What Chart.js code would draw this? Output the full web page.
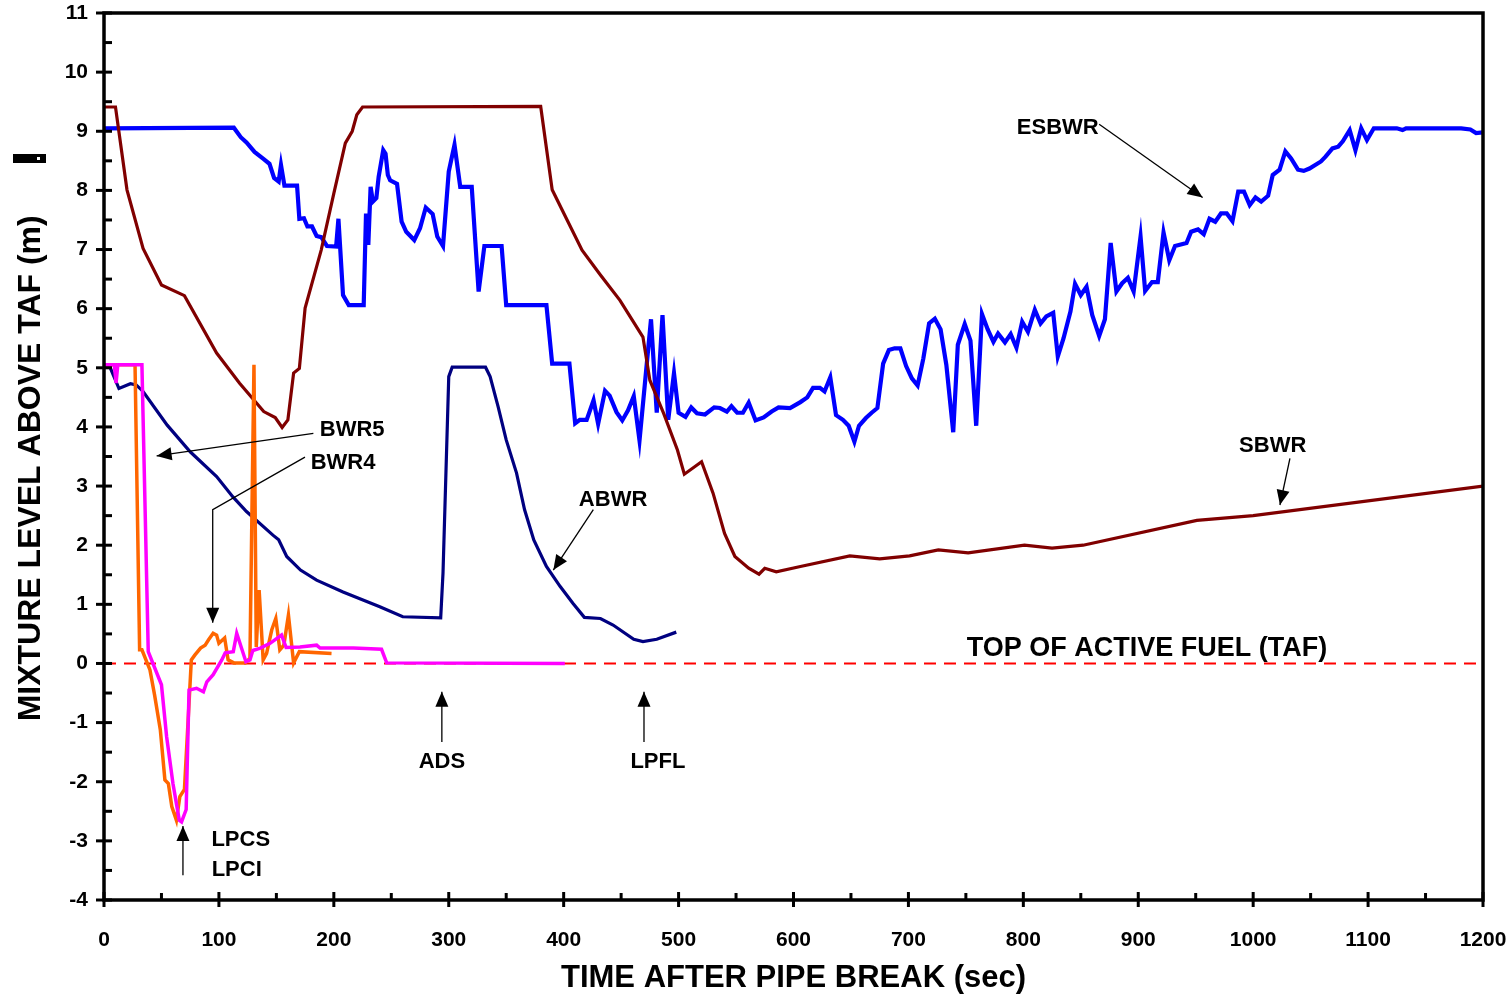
<!DOCTYPE html>
<html>
<head>
<meta charset="utf-8">
<script src="https://cdn.jsdelivr.net/npm/chart.js@4.4.1/dist/chart.umd.min.js"></script>
<style>
  html, body { margin: 0; padding: 0; background: #fff; }
  canvas { display: block; }
</style>
</head>
<body>
<canvas id="levelChart" width="1512" height="994"></canvas>
<script>
// ESBWR (blue)
const esbwrTime = [0, 113, 119, 124, 131, 139, 144, 148, 152, 154, 157, 168, 170, 174, 177, 181, 185, 189, 194, 202,
  204, 208, 213, 226, 228, 230, 232, 234, 237, 239, 243, 245, 247, 249, 255, 259, 263, 270, 275, 280,
  286, 290, 295, 300, 305, 310, 320, 326, 331, 346, 350, 385, 390, 405, 410, 414, 420, 426, 430, 436,
  440, 446, 451, 456, 461, 466, 476, 481, 486, 491, 496, 500, 506, 511, 516, 523, 531, 536, 542, 546,
  551, 556, 561, 567, 574, 581, 587, 597, 606, 612, 617, 623, 627, 632, 637, 643, 648, 653, 657, 663,
  668, 673, 678, 683, 688, 693, 698, 703, 708, 713, 718, 723, 728, 733, 739, 743, 749, 754, 759, 764,
  769, 774, 778, 784, 789, 794, 799, 804, 810, 815, 820, 826, 830, 835, 841, 845, 850, 855, 860, 866,
  871, 876, 881, 886, 891, 896, 902, 906, 912, 917, 922, 927, 932, 942, 946, 952, 957, 962, 967, 972,
  977, 982, 987, 992, 997, 1002, 1007, 1013, 1017, 1023, 1028, 1033, 1039, 1044, 1049, 1054, 1059, 1063, 1069, 1074,
  1078, 1084, 1089, 1094, 1099, 1105, 1125, 1130, 1133, 1181, 1189, 1194, 1200];
const esbwrLevel = [9.05, 9.06, 8.90, 8.81, 8.65, 8.53, 8.45, 8.21, 8.15, 8.43, 8.08, 8.08, 7.52, 7.53, 7.39, 7.39, 7.23, 7.21, 7.06, 7.05,
  7.52, 6.23, 6.06, 6.06, 7.61, 7.08, 8.06, 7.81, 7.87, 8.23, 8.68, 8.62, 8.26, 8.17, 8.11, 7.47, 7.30, 7.16, 7.36, 7.71,
  7.60, 7.22, 7.06, 8.32, 8.77, 8.06, 8.06, 6.29, 7.06, 7.06, 6.06, 6.06, 5.07, 5.07, 4.06, 4.12, 4.12, 4.45, 4.05, 4.61,
  4.53, 4.25, 4.11, 4.28, 4.52, 3.77, 5.82, 4.24, 5.89, 4.12, 4.91, 4.24, 4.17, 4.33, 4.23, 4.21, 4.33, 4.32, 4.26, 4.35,
  4.24, 4.24, 4.41, 4.11, 4.16, 4.26, 4.33, 4.32, 4.42, 4.50, 4.66, 4.66, 4.60, 4.84, 4.20, 4.12, 4.02, 3.75, 4.02, 4.15,
  4.24, 4.32, 5.07, 5.30, 5.33, 5.33, 5.03, 4.82, 4.70, 5.16, 5.75, 5.83, 5.65, 5.05, 3.91, 5.39, 5.74, 5.46, 4.02, 5.91,
  5.65, 5.44, 5.58, 5.43, 5.57, 5.34, 5.78, 5.61, 5.98, 5.75, 5.87, 5.93, 5.19, 5.50, 5.95, 6.42, 6.23, 6.37, 5.89, 5.54,
  5.82, 7.11, 6.29, 6.43, 6.52, 6.29, 7.22, 6.30, 6.45, 6.45, 7.29, 6.82, 7.06, 7.11, 7.30, 7.34, 7.26, 7.52, 7.47, 7.61,
  7.61, 7.48, 7.98, 7.98, 7.75, 7.88, 7.81, 7.91, 8.26, 8.35, 8.66, 8.54, 8.35, 8.33, 8.37, 8.43, 8.49, 8.57, 8.71, 8.74,
  8.83, 9.02, 8.68, 9.05, 8.85, 9.05, 9.05, 9.02, 9.05, 9.05, 9.03, 8.97, 8.98];

// SBWR (dark red)
const sbwrTime = [0, 10, 20, 34, 50, 70, 98, 118, 139, 149, 155, 160, 165, 170, 175, 189, 200, 210, 216, 220,
  225, 380, 390, 403, 416, 432, 449, 469, 475, 487, 499, 505, 520, 530, 540, 549, 561, 570, 575, 585,
  606, 649, 675, 701, 726, 752, 801, 825, 852, 951, 1000, 1200];
const sbwrLevel = [9.41, 9.41, 8.01, 7.02, 6.40, 6.22, 5.25, 4.74, 4.26, 4.16, 3.99, 4.12, 4.91, 4.99, 6.01, 6.99, 7.95, 8.80, 9.00, 9.28,
  9.41, 9.42, 8.01, 7.50, 6.99, 6.57, 6.14, 5.52, 4.79, 4.23, 3.61, 3.20, 3.41, 2.88, 2.20, 1.81, 1.61, 1.51, 1.61, 1.55,
  1.64, 1.82, 1.77, 1.82, 1.92, 1.87, 2.00, 1.95, 2.00, 2.42, 2.50, 3.00];

// ABWR (navy)
const abwrTime = [0, 5, 13, 23, 28, 34, 55, 75, 98, 112, 124, 147, 152, 159, 171, 185, 208, 240, 260, 293,
  295, 300, 303, 332, 336, 343, 350, 359, 366, 374, 385, 397, 408, 418, 432, 443, 461, 469, 481, 498];
const abwrLevel = [5.03, 5.02, 4.65, 4.73, 4.71, 4.60, 4.03, 3.58, 3.16, 2.82, 2.57, 2.17, 2.09, 1.81, 1.58, 1.41, 1.21, 0.96, 0.79, 0.77,
  1.53, 4.85, 5.01, 5.01, 4.85, 4.34, 3.78, 3.22, 2.60, 2.09, 1.64, 1.30, 1.02, 0.78, 0.76, 0.65, 0.41, 0.37, 0.41, 0.53];

// BWR4 (orange)
const bwr4Time = [0, 27, 31, 33, 40, 44, 49, 53, 56, 59, 63, 66, 70, 76, 79, 84, 88, 91, 95, 98,
  100, 105, 108, 113, 123, 127, 130.5, 132.5, 135, 138.5, 141.5, 146, 149.5, 153, 156.5, 160.5, 165, 170, 198];
const bwr4Level = [5.05, 5.05, 0.23, 0.23, -0.11, -0.53, -1.12, -1.97, -2.03, -2.42, -2.65, -2.25, -2.13, 0.06, 0.14, 0.26, 0.31, 0.40, 0.51, 0.48,
  0.34, 0.43, 0.06, 0.01, 0.01, 0.09, 5.05, 0.28, 1.24, 0.06, 0.17, 0.57, 0.76, 0.23, 0.31, 0.82, 0.01, 0.20, 0.17];

// BWR5 (magenta)
const bwr5Time = [0, 9, 10.5, 12, 33, 38.5, 50, 54.5, 60, 65.5, 67.5, 71.5, 74, 80.5, 86.5, 89.5, 95, 102.5, 105.5, 112.5,
  115.5, 123.5, 127, 129.5, 136, 144.5, 154.5, 158.5, 170.5, 185, 188, 217, 241.5, 246, 401];
const bwr5Level = [5.05, 5.05, 4.74, 5.05, 5.05, 0.20, -0.36, -1.24, -2.03, -2.65, -2.68, -2.47, -0.45, -0.42, -0.48, -0.31, -0.19, 0.06, 0.18, 0.20,
  0.51, 0.03, 0.06, 0.22, 0.26, 0.34, 0.48, 0.27, 0.28, 0.31, 0.26, 0.26, 0.24, 0.01, 0.00];

// top of active fuel reference line
const tafTime = [0, 1200];
const tafLevel = [0, 0];

const FONT = "'Liberation Sans', Arial, Helvetica, sans-serif";
const yTitle = 'MIXTURE LEVEL ABOVE TAF (m)';

// labels and arrows, placed in data units
const labels = [
  { text: 'ESBWR', x: 830, y: 9.06, size: 22 },
  { text: 'SBWR', x: 1017, y: 3.68, size: 22 },
  { text: 'ABWR', x: 443, y: 2.77, size: 22 },
  { text: 'BWR5', x: 216, y: 3.95, size: 22 },
  { text: 'BWR4', x: 208, y: 3.39, size: 22 },
  { text: 'TOP OF ACTIVE FUEL (TAF)', x: 907.6, y: 0.26, size: 27 },
  { text: 'ADS', x: 294, y: -1.67, size: 22 },
  { text: 'LPFL', x: 482, y: -1.67, size: 22 },
  { text: 'LPCS', x: 119, y: -2.99, size: 22 },
  { text: 'LPCI', x: 115.5, y: -3.49, size: 22 }
];
const arrows = [
  [[866, 9.12], [956, 7.88]],
  [[1032, 3.47], [1023.3, 2.68]],
  [[425.8, 2.60], [391, 1.58]],
  [[182.2, 3.89], [45.8, 3.51]],
  [[174.9, 3.49], [94.6, 2.60], [94.6, 0.69]],
  [[294, -1.33], [294, -0.48]],
  [[469.9, -1.33], [469.9, -0.48]],
  [[68.7, -3.58], [68.7, -2.75]]
];

function pairs(xs, ys) {
  return xs.map((t, i) => ({ x: t, y: ys[i] }));
}

function series(label, xs, ys, color, width, order) {
  return {
    label: label,
    data: pairs(xs, ys),
    borderColor: color,
    backgroundColor: color,
    borderWidth: width,
    pointRadius: 0,
    tension: 0,
    order: order
  };
}

const decorations = {
  id: 'decorations',
  afterDatasetsDraw(chart) {
    const ctx = chart.ctx;
    const a = chart.chartArea;
    const xs = chart.scales.x;
    const ys = chart.scales.y;
    ctx.save();
    ctx.strokeStyle = '#000';
    ctx.fillStyle = '#000';

    // frame
    ctx.lineWidth = 3.5;
    ctx.strokeRect(a.left, a.top, a.right - a.left, a.bottom - a.top);

    // y ticks, major ones cross the axis
    ctx.lineWidth = 3;
    for (let v = ys.min; v <= ys.max + 1e-9; v += 0.5) {
      const py = ys.getPixelForValue(v);
      const major = Math.abs(v - Math.round(v)) < 1e-9;
      ctx.beginPath();
      ctx.moveTo(major ? a.left - 8 : a.left, py);
      ctx.lineTo(a.left + 8, py);
      ctx.stroke();
    }
    // x ticks
    for (let v = xs.min; v <= xs.max + 1e-9; v += 50) {
      const px = xs.getPixelForValue(v);
      const major = v % 100 === 0;
      ctx.beginPath();
      ctx.moveTo(px, major ? a.bottom + 7 : a.bottom);
      ctx.lineTo(px, a.bottom - (major ? 8 : 7));
      ctx.stroke();
    }

    // arrows
    ctx.lineWidth = 1.3;
    arrows.forEach(path => {
      const pts = path.map(p => [xs.getPixelForValue(p[0]), ys.getPixelForValue(p[1])]);
      ctx.beginPath();
      ctx.moveTo(pts[0][0], pts[0][1]);
      for (let i = 1; i < pts.length; i++) ctx.lineTo(pts[i][0], pts[i][1]);
      ctx.stroke();
      const [x1, y1] = pts[pts.length - 2];
      const [x2, y2] = pts[pts.length - 1];
      const ang = Math.atan2(y2 - y1, x2 - x1);
      const len = 15, half = 6.5;
      ctx.beginPath();
      ctx.moveTo(x2, y2);
      ctx.lineTo(x2 - len * Math.cos(ang) + half * Math.sin(ang), y2 - len * Math.sin(ang) - half * Math.cos(ang));
      ctx.lineTo(x2 - len * Math.cos(ang) - half * Math.sin(ang), y2 - len * Math.sin(ang) + half * Math.cos(ang));
      ctx.closePath();
      ctx.fill();
    });

    // text labels
    ctx.textAlign = 'center';
    ctx.textBaseline = 'middle';
    labels.forEach(l => {
      ctx.font = 'bold ' + l.size + 'px ' + FONT;
      ctx.fillText(l.text, xs.getPixelForValue(l.x), ys.getPixelForValue(l.y));
    });

    // y axis title, sits a bit below the plot's centre in the original
    ctx.save();
    ctx.translate(31, ys.getPixelForValue(3.3));
    ctx.rotate(-Math.PI / 2);
    ctx.font = 'bold 32px ' + FONT;
    ctx.fillText(yTitle, 0, 0);
    ctx.restore();

    // stray mark left of the axis title in the original
    ctx.fillRect(13, 154, 33, 9);
    ctx.fillStyle = '#fff';
    ctx.fillRect(37, 157, 3, 3);
    ctx.restore();
  }
};

const chart = new Chart(document.getElementById('levelChart'), {
  type: 'line',
  data: {
    datasets: [
      series('BWR5', bwr5Time, bwr5Level, '#ff00ff', 3.5, 1),
      series('BWR4', bwr4Time, bwr4Level, '#ff6600', 3.5, 2),
      series('SBWR', sbwrTime, sbwrLevel, '#800000', 3.2, 3),
      series('ESBWR', esbwrTime, esbwrLevel, '#0000ff', 4.2, 4),
      series('ABWR', abwrTime, abwrLevel, '#000080', 3.2, 5),
      Object.assign(series('TAF', tafTime, tafLevel, '#ff0000', 2, 6), { borderDash: [12, 8] })
    ]
  },
  options: {
    responsive: false,
    animation: false,
    devicePixelRatio: 1,
    layout: { padding: { top: 13, right: 29, left: 0, bottom: 0 } },
    plugins: { legend: { display: false }, tooltip: { enabled: false } },
    scales: {
      x: {
        type: 'linear',
        min: 0,
        max: 1200,
        afterFit: s => { s.height = 94; s.paddingLeft = 0; s.paddingRight = 0; },
        grid: { display: false, drawTicks: false },
        border: { display: false },
        ticks: {
          stepSize: 100,
          padding: 28,
          color: '#000',
          font: { family: FONT, size: 21, weight: 'bold' },
          maxRotation: 0,
          callback: v => String(v)
        },
        title: {
          display: true,
          text: 'TIME AFTER PIPE BREAK (sec)',
          color: '#000',
          font: { family: FONT, size: 31, weight: 'bold', lineHeight: 1 },
          padding: { top: 0, bottom: 0 }
        }
      },
      y: {
        min: -4,
        max: 11,
        afterFit: s => { s.width = 104; s.paddingTop = 0; s.paddingBottom = 0; },
        grid: { display: false, drawTicks: false },
        border: { display: false },
        ticks: {
          stepSize: 1,
          padding: 16,
          color: '#000',
          font: { family: FONT, size: 21, weight: 'bold' }
        }
      }
    }
  },
  plugins: [decorations]
});
</script>
</body>
</html>
